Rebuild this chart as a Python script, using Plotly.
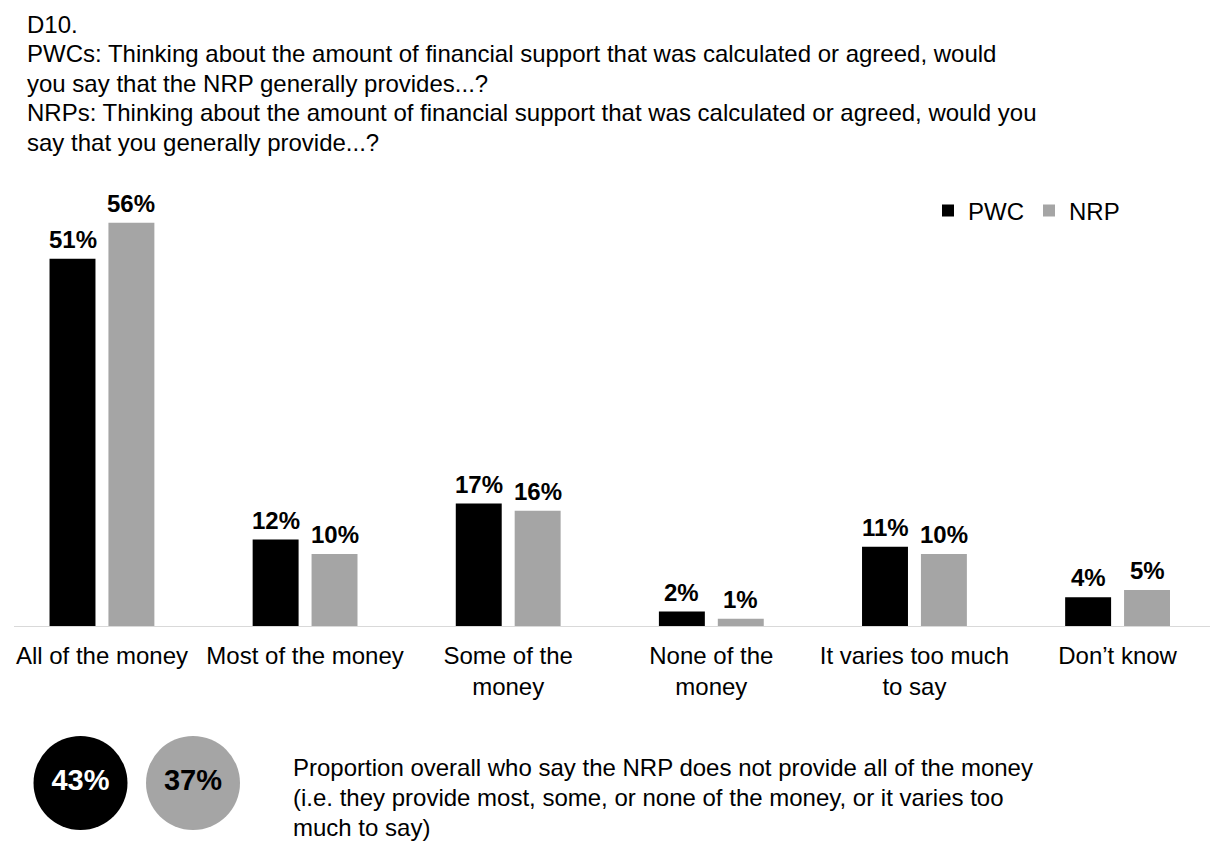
import plotly.graph_objects as go

# ---- data ----
categories = [
    "All of the money",
    "Most of the money",
    "Some of the<br>money",
    "None of the<br>money",
    "It varies too much<br>to say",
    "Don\u2019t know",
]
pwc_values = [51, 12, 17, 2, 11, 4]
nrp_values = [56, 10, 16, 1, 10, 5]
series_names = ["PWC", "NRP"]
# overall share saying the NRP does not provide all of the money
summary_values = [43, 37]

title_lines = [
    "D10.",
    "PWCs: Thinking about the amount of financial support that was calculated or agreed, would",
    "you say that the NRP generally provides...?",
    "NRPs: Thinking about the amount of financial support that was calculated or agreed, would you",
    "say that you generally provide...?",
]
note_lines = [
    "Proportion overall who say the NRP does not provide all of the money",
    "(i.e. they provide most, some, or none of the money, or it varies too",
    "much to say)",
]

# ---- styling ----
W, H = 1210, 841
FONT = "Liberation Sans, Arial, sans-serif"
BLACK = "#000000"
GREY = "#A5A5A5"
colors = [BLACK, GREY]

BARGAP = 0.42
BARGROUPGAP = 0.22
slot = (1 - BARGAP) / 2          # width of each bar slot in category units

fig = go.Figure()

for name, vals, col in zip(series_names, [pwc_values, nrp_values], colors):
    fig.add_trace(go.Bar(
        x=categories, y=vals, name=name,
        marker=dict(color=col, line=dict(width=0)),
        hoverinfo="skip",
    ))

# value labels above the bars
annotations = []
for s, vals in enumerate([pwc_values, nrp_values]):
    offset = (s - 0.5) * slot
    for i, v in enumerate(vals):
        annotations.append(dict(
            x=i + offset, y=v, xref="x", yref="y",
            text=f"<b>{v}%</b>", showarrow=False,
            xanchor="center", yanchor="bottom", yshift=4,
            font=dict(family=FONT, size=24, color=BLACK),
        ))

# question text (pixel coordinates via the overlay axes)
for k, line in enumerate(title_lines):
    annotations.append(dict(
        x=25, y=24 + k * 29.6, xref="x2", yref="y2",
        text=line, showarrow=False, xanchor="left", yanchor="middle",
        font=dict(family=FONT, size=24, color=BLACK),
    ))

for k, line in enumerate(note_lines):
    annotations.append(dict(
        x=291, y=767 + k * 30, xref="x2", yref="y2",
        text=line, showarrow=False, xanchor="left", yanchor="middle",
        font=dict(family=FONT, size=24, color=BLACK),
    ))

# summary circles
fig.add_trace(go.Scatter(
    x=[80.5, 193], y=[783, 783], xaxis="x2", yaxis="y2",
    mode="markers+text",
    marker=dict(size=94, color=colors, line=dict(width=0)),
    text=[f"<b>{v}%</b>" for v in summary_values],
    textposition="middle center",
    textfont=dict(family=FONT, size=29, color=["#FFFFFF", BLACK]),
    showlegend=False, hoverinfo="skip", cliponaxis=False,
))

fig.update_layout(
    width=W, height=H,
    margin=dict(l=0, r=0, t=0, b=0),
    paper_bgcolor="white", plot_bgcolor="rgba(0,0,0,0)",
    barmode="group", bargap=BARGAP, bargroupgap=BARGROUPGAP,
    font=dict(family=FONT, size=24, color=BLACK),
    showlegend=True,
    legend=dict(
        orientation="h", x=928 / W, y=1 - 211 / H,
        xanchor="left", yanchor="middle",
        font=dict(family=FONT, size=24, color=BLACK),
        bgcolor="rgba(0,0,0,0)", borderwidth=0,
        itemclick=False, itemdoubleclick=False,
    ),
    xaxis=dict(
        type="category", domain=[14 / W, 1],
        range=[-0.433, 5.455],
        showline=True, linecolor="#D9D9D9", linewidth=1,
        ticks="", showgrid=False, zeroline=False,
        ticklabelstandoff=8,
        tickfont=dict(family=FONT, size=24, color=BLACK),
        fixedrange=True,
    ),
    yaxis=dict(
        domain=[215 / H, 647 / H], range=[0, 60],
        visible=False, showgrid=False, zeroline=False, fixedrange=True,
    ),
    xaxis2=dict(domain=[0, 1], range=[0, W], anchor="y2",
                visible=False, fixedrange=True),
    yaxis2=dict(domain=[0, 1], range=[H, 0], anchor="x2",
                visible=False, fixedrange=True),
    annotations=annotations,
)

fig.write_html("out.html", config={"displayModeBar": False})
